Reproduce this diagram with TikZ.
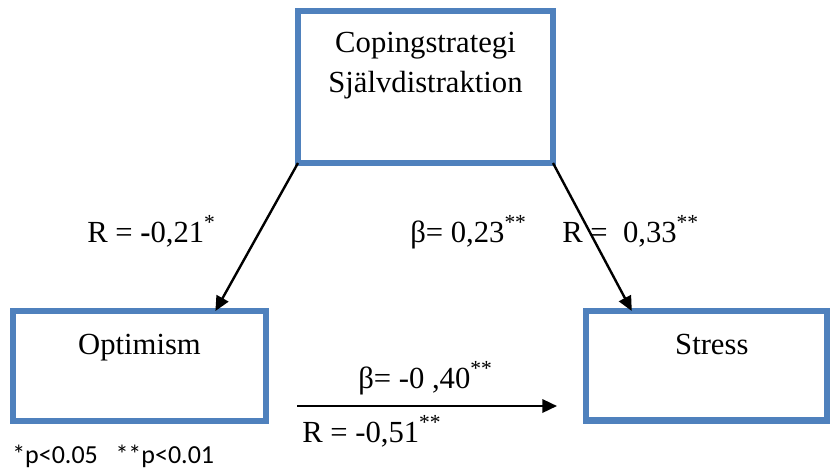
\documentclass[tikz,border=0pt]{standalone}
\usepackage{fontspec}
\setmainfont{Liberation Serif}
\newfontfamily\notefont{Carlito}
\usepackage{xcolor}
\definecolor{boxblue}{HTML}{4F81BD}
\definecolor{arrowcolor}{HTML}{000000}
\usepackage{tikz}
\usetikzlibrary{positioning,arrows.meta,calc}
\tikzset{
    varbox/.style={
        rectangle,
        draw=boxblue,
        fill=white,
        line width=5pt,
        inner sep=0pt,
        outer sep=0pt,
        anchor=north west,
    },
    boxtext/.style={
        font=\fontsize{23}{30}\selectfont,
        align=center,
        inner sep=0pt,
        anchor=north,
    },
    coeff/.style={
        font=\fontsize{23}{28}\selectfont,
        inner sep=0pt,
        anchor=base west,
    },
    effect/.style={
        -{Triangle[length=11pt,width=10pt]},
        line width=1.8pt,
        arrowcolor,
    },
    note/.style={
        font=\notefont\fontsize{19.5}{23}\selectfont,
        inner sep=0pt,
        anchor=base west,
    },
}
\begin{document}
\begin{tikzpicture}[x=0.75pt, y=-0.75pt]
    \useasboundingbox (0,0) rectangle (831,469);

    % Coping strategy (top)
    \node[varbox, minimum width=191.25pt, minimum height=114pt] (coping) at (298,11) {};
    \node[boxtext, below=15.75pt of coping.north] (copingtext) {Copingstrategi\\Självdistraktion};

    % Optimism
    \node[varbox, minimum width=189.75pt, minimum height=82.5pt] (optimism) at (13,311) {};
    \node[boxtext, below=17pt of optimism.north] (optimismtext) {Optimism};

    % Stress
    \node[varbox, minimum width=180.75pt, minimum height=82pt] (stress) at (586,311) {};
    \node[boxtext, below=17pt of stress.north, xshift=4pt] (stresstext) {Stress};

    % Paths
    \draw[effect] (coping.south west) -- ($(optimism.north west)!0.8!(optimism.north east)$);
    \draw[effect] (coping.south east) -- ($(stress.north west)!0.19!(stress.north east)$);
    \coordinate (directtail) at (297,406);
    \coordinate (directhead) at (557,406);
    \draw[effect] (directtail) -- (directhead);

    % Coefficients
    \node[coeff] (ropt) at (87,242) {R = \textbf{-}0,21\textsuperscript{*}};
    \node[coeff] (bstress) at (410,242) {β= 0,23\textsuperscript{**}};
    \node[coeff] (rstress) at (562,242) {R =\ \ 0,33\textsuperscript{**}};
    \node[coeff] (bdirect) at (358,388) {β= -0 ,40\textsuperscript{**}};
    \node[coeff] (rdirect) at (302,442) {R = -0,51\textsuperscript{**}};

    % Significance
    \node[note] (signif) at (12,463) {*p<0.05\ \ \ **p<0.01};

\end{tikzpicture}
\end{document}
